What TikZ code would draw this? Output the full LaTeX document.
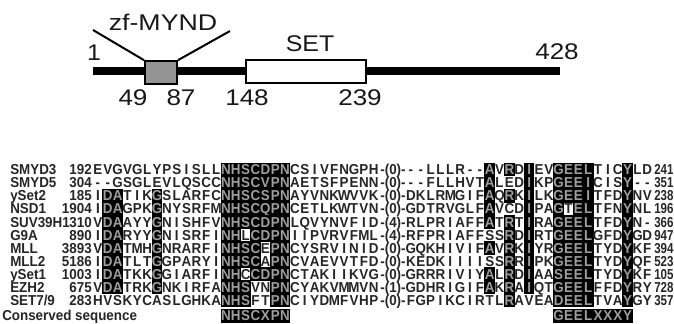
\documentclass[tikz,border=0pt]{standalone}
\usepackage{fontspec}
\setmainfont{Liberation Sans}
\newcommand\sx[1]{\scalebox{0.93}[1]{#1}}
\newcommand\sxe[1]{\scalebox{0.8}[1]{#1}}
\tikzset{
  res/.style={inner sep=0pt, text height=7.7pt, text depth=0pt,
    font=\fontsize{10.8}{12}\selectfont\bfseries, text=black!85},
  reshl/.style={res, text=black!38},
  seqname/.style={res, anchor=west},
  seqnum/.style={res, anchor=east},
  endnum/.style={res, anchor=west},
  domlabel/.style={inner sep=0pt, font=\fontsize{17}{19}\selectfont, text=black!90},
  domain box/.style={draw=black, line width=1.5pt, minimum width=24pt, minimum height=17pt, inner sep=0pt},
}
% alignment grid (px)
\def\rowtop{169.5}
\def\rowsep{13.1}
\def\colw{9.85}
\def\leftx{93}
\def\rightx{406}
% one residue; a leading * gives a black cell
\def\rescell#1#2\relax#3{%
  \ifx*#1
    \fill[black] (\cx-\colw/2-0.4,\rowy-\rowsep/2-0.4) rectangle (\cx+\colw/2+0.4,\rowy+\rowsep/2+0.4);
    \node[reshl] (#3) at (\cx,\rowy) {\sx{#2}};
  \else
    \node[res] (#3) at (\cx,\rowy) {\sx{#1#2}};
  \fi}
\newcommand\alrow[7]{%
  \pgfmathsetmacro\rowy{\rowtop+(#1-1)*\rowsep}
  \node[seqname] (name#1) at (10,\rowy) {\sx{#2}};
  \node[seqnum] (num#1) at (92,\rowy) {\sx{#3}};
  \foreach \c [count=\i] in {#4} {%
    \pgfmathsetmacro\cx{\leftx+(\i-0.5)*\colw}
    \expandafter\rescell\c\relax{a#1-\i}}
  \node[res] (gap#1) at (393,\rowy) {\sx{#5}};
  \foreach \c [count=\i] in {#6} {%
    \pgfmathsetmacro\cx{\rightx+(\i-0.5)*\colw}
    \expandafter\rescell\c\relax{b#1-\i}}
  \node[endnum] (end#1) at (654,\rowy) {\sxe{#7}};
}

\begin{document}
\begin{tikzpicture}[x=0.75pt,y=-0.75pt]
  \useasboundingbox[fill=white] (0,0) rectangle (674,324);

  % protein bar
  \coordinate (pstart) at (93,71);
  \coordinate (pend) at (560,71);
  \draw[line width=6pt] (pstart) -- (pend);
  \node[domain box, fill=black!42] (mynd) at (161,72.5) {};
  \node[domain box, fill=white, minimum width=90pt] (set) at (306,71.5) {};
  \coordinate (myndl) at (93,30);
  \coordinate (myndr) at (230,31);
  \draw[line width=1.5pt] (mynd.north west) -- (myndl);
  \draw[line width=1.5pt] (mynd.north east) -- (myndr);

  \node[domlabel] (lmynd) at (163,22) {\scalebox{1.18}[1]{zf-MYND}};
  \node[domlabel] (lset) at (310,43.5) {\scalebox{1.1}[1]{SET}};
  \node[domlabel] (lone) at (94,53) {\scalebox{1.1}[1]{1}};
  \node[domlabel] (lend) at (557,52) {\scalebox{1.15}[1]{428}};
  \node[domlabel] (l49) at (133,98) {\scalebox{1.15}[1]{49}};
  \node[domlabel] (l87) at (181,98) {\scalebox{1.15}[1]{87}};
  \node[domlabel] (l148) at (247,98) {\scalebox{1.15}[1]{148}};
  \node[domlabel] (l239) at (360,98) {\scalebox{1.15}[1]{239}};

  % alignment
  \alrow{1}{SMYD3}{192}{E,V,G,V,G,L,Y,P,S,I,S,L,L,*N,*H,*S,*C,*D,*P,*N,C,S,I,V,F,N,G,P,H}{-(0)-}
    {-,-,L,L,L,R,-,-,*A,V,*R,D,*I,E,V,*G,*E,*E,*L,T,I,C,*Y,L,D}{241}
  \alrow{2}{SMYD5}{304}{-,-,G,S,G,L,E,V,L,Q,S,C,C,*N,*H,*S,*C,*V,*P,*N,A,E,T,S,F,P,E,N,N}{-(0)-}
    {-,-,F,L,L,H,V,T,*A,L,E,D,*I,K,P,*G,*E,*E,*I,C,I,S,*Y,-,-}{351}
  \alrow{3}{ySet2}{185}{I,*D,*A,T,I,K,*G,S,L,A,R,F,C,*N,*H,*S,*C,*S,*P,*N,A,Y,V,N,K,W,V,V,K}{-(0)-}
    {D,K,L,R,M,G,I,F,*A,Q,*R,K,*I,L,K,*G,*E,*E,*I,T,F,D,*Y,N,V}{238}
  \alrow{4}{NSD1}{1904}{I,*D,*A,G,P,K,*G,N,Y,S,R,F,M,*N,*H,*S,*C,*Q,*P,*N,C,E,T,L,K,W,T,V,N}{-(0)-}
    {G,D,T,R,V,G,L,F,*A,V,C,D,*I,P,A,*G,T,*E,*L,T,F,N,*Y,N,L}{196}
  \alrow{5}{SUV39H1}{310}{V,*D,*A,A,Y,Y,*G,N,I,S,H,F,V,*N,*H,*S,*C,*D,*P,*N,L,Q,V,Y,N,V,F,I,D}{-(4)-}
    {R,L,P,R,I,A,F,F,*A,T,*R,T,*I,R,A,*G,*E,*E,*L,T,F,D,*Y,N,-}{366}
  \alrow{6}{G9A}{890}{I,*D,*A,R,Y,Y,*G,N,I,S,R,F,I,*N,*H,L,*C,*D,*P,*N,I,I,P,V,R,V,F,M,L}{-(4)-}
    {R,F,P,R,I,A,F,F,S,S,*R,D,*I,R,T,*G,*E,*E,*L,G,F,D,*Y,G,D}{947}
  \alrow{7}{MLL}{3893}{V,*D,*A,T,M,H,*G,N,R,A,R,F,I,*N,*H,*S,*C,E,*P,*N,C,Y,S,R,V,I,N,I,D}{-(0)-}
    {G,Q,K,H,I,V,I,F,*A,V,*R,K,*I,Y,R,*G,*E,*E,*L,T,Y,D,*Y,K,F}{394}
  \alrow{8}{MLL2}{5186}{I,*D,*A,T,L,T,*G,G,P,A,R,Y,I,*N,*H,*S,*C,A,*P,*N,C,V,A,E,V,V,T,F,D}{-(0)-}
    {K,E,D,K,I,I,I,I,S,S,*R,R,*I,P,K,*G,*E,*E,*L,T,Y,D,*Y,Q,F}{523}
  \alrow{9}{ySet1}{1003}{I,*D,*A,T,K,K,*G,G,I,A,R,F,I,*N,*H,C,*C,*D,*P,*N,C,T,A,K,I,I,K,V,G}{-(0)-}
    {G,R,R,R,I,V,I,Y,*A,L,*R,D,*I,A,A,*S,*E,*E,*L,T,Y,D,*Y,K,F}{105}
  \alrow{10}{EZH2}{675}{V,*D,*A,T,R,K,*G,N,K,I,R,F,A,*N,*H,*S,V,N,*P,*N,C,Y,A,K,V,M,M,V,N}{-(1)-}
    {G,D,H,R,I,G,I,F,*A,K,*R,A,*I,Q,T,*G,*E,*E,*L,F,F,D,*Y,R,Y}{728}
  \alrow{11}{SET7/9}{283}{H,V,S,K,Y,C,A,S,L,G,H,K,A,*N,*H,*S,F,T,*P,*N,C,I,Y,D,M,F,V,H,P}{-(0)-}
    {F,G,P,I,K,C,I,R,T,L,*R,A,V,E,A,*D,*E,*E,*L,T,V,A,*Y,G,Y}{357}

  % conserved motifs
  \pgfmathsetmacro\rowy{\rowtop+11*\rowsep+2}
  \node[seqname] (name12) at (2,\rowy) {\sx{Conserved sequence}};
  \foreach \c [count=\i from 14] in {*N,*H,*S,*C,*X,*P,*N} {%
    \pgfmathsetmacro\cx{\leftx+(\i-0.5)*\colw}
    \expandafter\rescell\c\relax{a12-\i}}
  \foreach \c [count=\i from 16] in {*G,*E,*E,*L,*X,*X,*X,*Y} {%
    \pgfmathsetmacro\cx{\rightx+(\i-0.5)*\colw}
    \expandafter\rescell\c\relax{b12-\i}}
\end{tikzpicture}
\end{document}
